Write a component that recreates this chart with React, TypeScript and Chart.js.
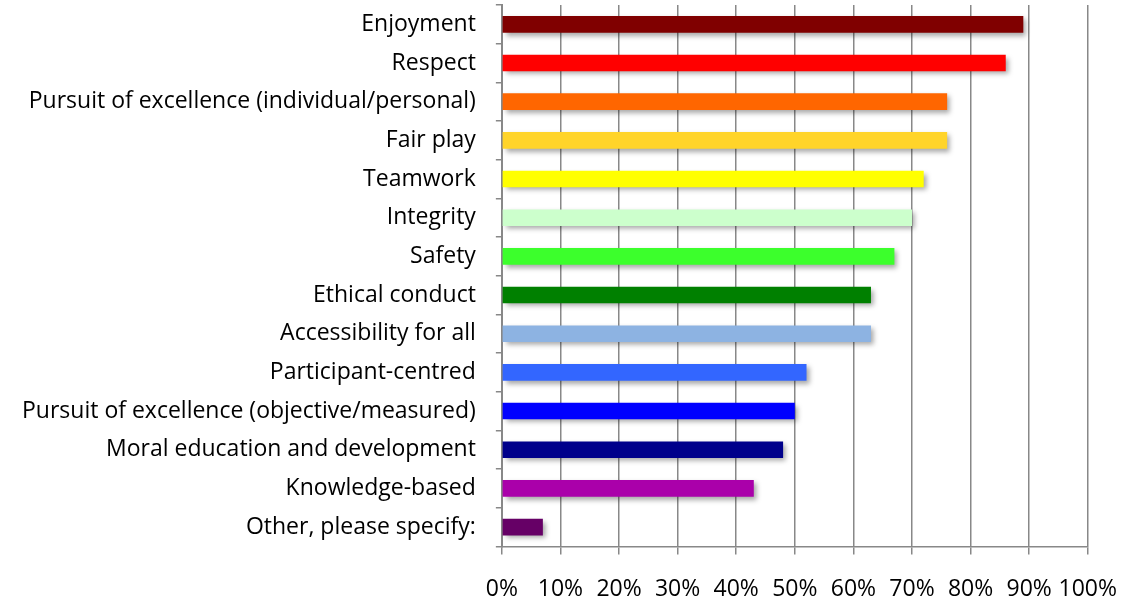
import React, { useEffect, useRef } from "react";
import { Chart, registerables } from "chart.js";

Chart.register(...registerables);

const categories = [
  "Enjoyment",
  "Respect",
  "Pursuit of excellence (individual/personal)",
  "Fair play",
  "Teamwork",
  "Integrity",
  "Safety",
  "Ethical conduct",
  "Accessibility for all",
  "Participant-centred",
  "Pursuit of excellence (objective/measured)",
  "Moral education and development",
  "Knowledge-based",
  "Other, please specify:",
];

const values = [89, 86, 76, 76, 72, 70, 67, 63, 63, 52, 50, 48, 43, 7];

const barColors = [
  "#800000",
  "#FF0000",
  "#FF6600",
  "#FFD42A",
  "#FFFF00",
  "#CCFFCC",
  "#3CFF2C",
  "#008000",
  "#8DB3E2",
  "#3366FF",
  "#0000FF",
  "#00008B",
  "#AA00AA",
  "#660066",
];

const FONT = "Open Sans";

const shadowPlugin = {
  id: "barShadow",
  beforeDatasetsDraw(chart: any) {
    const ctx = chart.ctx;
    ctx.save();
    ctx.shadowColor = "rgba(0,0,0,0.35)";
    ctx.shadowBlur = 5;
    ctx.shadowOffsetX = 3;
    ctx.shadowOffsetY = 3;
  },
  afterDatasetsDraw(chart: any) {
    chart.ctx.restore();
  },
};

export default function App() {
  const ref = useRef<HTMLCanvasElement | null>(null);

  useEffect(() => {
    if (!ref.current) return;
    const chart = new Chart(ref.current, {
      type: "bar",
      data: {
        labels: categories,
        datasets: [
          {
            data: values,
            backgroundColor: barColors,
            borderWidth: 0,
            categoryPercentage: 1,
            barPercentage: 0.43,
          },
        ],
      },
      plugins: [shadowPlugin],
      options: {
        indexAxis: "y",
        animation: false,
        responsive: false,
        maintainAspectRatio: false,
        layout: { padding: { top: 5, right: 16, bottom: -19, left: 2 } },
        plugins: {
          legend: { display: false },
          tooltip: { enabled: false },
        },
        scales: {
          x: {
            min: 0,
            max: 100,
            ticks: {
              stepSize: 10,
              autoSkip: false,
              callback: (v: any) => v + "%",
              color: "#000",
              font: { family: FONT, size: 23 },
              padding: 21,
              maxRotation: 0,
              minRotation: 0,
            },
            grid: {
              color: "#888888",
              lineWidth: 1.5,
              tickLength: 8,
            },
            border: { color: "#888888", width: 1.5 },
          },
          y: {
            afterFit: (s: any) => {
              s.paddingTop = 0;
              s.paddingBottom = 0;
            },
            ticks: {
              color: "#000",
              font: { family: FONT, size: 23 },
              padding: 20,
              autoSkip: false,
            },
            grid: {
              drawOnChartArea: false,
              offset: true,
              color: "#888888",
              lineWidth: 1.5,
              tickLength: 6,
            },
            border: { color: "#888888", width: 2 },
          },
        },
      },
    });
    return () => chart.destroy();
  }, []);

  return (
    <div style={{ position: "fixed", left: 0, top: 0, width: 1138, height: 605, background: "#fff" }}>
      <canvas ref={ref} width={1138} height={605} style={{ width: 1138, height: 605 }} />
    </div>
  );
}
